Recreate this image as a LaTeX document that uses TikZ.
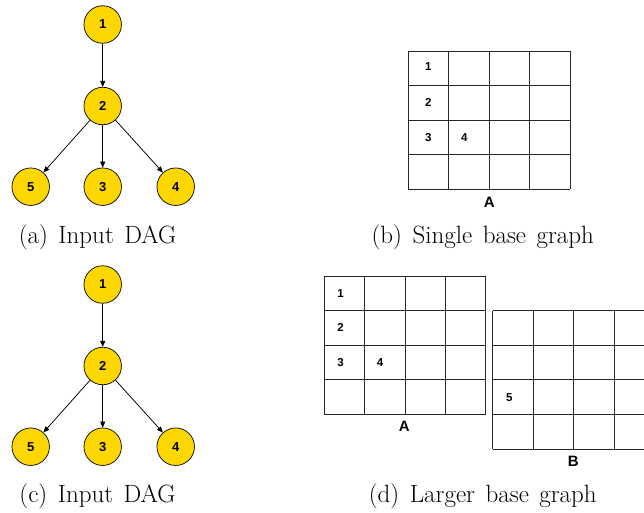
\documentclass[tikz,border=0pt]{standalone}
\usepackage{fontspec}
\newfontfamily\labfont{Liberation Sans}
\usetikzlibrary{arrows.meta}
\definecolor{nodegold}{HTML}{FFD700}
% caption font with slightly wide interword spacing
\newcommand{\capfont}{\fontsize{25}{30}\selectfont\spaceskip 10.5pt plus 1pt\relax}

\begin{document}
\begin{tikzpicture}[x=1pt,y=-1pt,
  dagnode/.style={circle, draw=black, line width=0.7pt, fill=nodegold,
    minimum size=37.5pt, inner sep=0pt,
    font=\labfont\bfseries\fontsize{13}{13}\selectfont},
  edge/.style={line width=0.75pt, draw=black, -{Triangle[length=6pt,width=5pt]}},
  gridline/.style={line width=0.9pt, draw=black!85},
  celllabel/.style={font=\labfont\bfseries\fontsize{11.5}{12}\selectfont, inner sep=0pt},
  gridname/.style={font=\labfont\bfseries\fontsize{15}{15}\selectfont, inner sep=0pt},
  caption/.style={font=\capfont, inner sep=0pt}]

\useasboundingbox (0,0) rectangle (644,512);
\clip (0,0) rectangle (644,512);

% ---- (a) input DAG ----
\begin{scope}
  \node[dagnode] (a1) at (102.7,24.5)  {1};
  \node[dagnode] (a2) at (102.7,106)   {2};
  \node[dagnode] (a5) at (30.7,186.7)  {5};
  \node[dagnode] (a3) at (102.7,186.7) {3};
  \node[dagnode] (a4) at (175.7,186.7) {4};
  \draw[edge] (a1) -- (a2);
  \draw[edge] (a2) -- (a5);
  \draw[edge] (a2) -- (a3);
  \draw[edge] (a2) -- (a4);
\end{scope}
\node[caption] (capa) at (97.5,237.5) {(a) Input DAG};

% ---- (b) single base graph ----
\foreach \i in {0,...,4} {
  \draw[gridline] (408.3+\i*40.43,51) -- (408.3+\i*40.43,189.3);
  \draw[gridline] (408.3,51+\i*34.58) -- (570,51+\i*34.58);
}
\node[celllabel] (b1) at (428.3,67)  {1};
\node[celllabel] (b2) at (428.3,102) {2};
\node[celllabel] (b3) at (428.3,138) {3};
\node[celllabel] (b4) at (464.3,138) {4};
\node[gridname]  (bA) at (489.3,202) {A};
\node[caption] (capb) at (482.8,237.5) {(b) Single base graph};

% ---- (c) input DAG ----
\begin{scope}[yshift=-260pt]
  \node[dagnode] (c1) at (102.7,24.5)  {1};
  \node[dagnode] (c2) at (102.7,106)   {2};
  \node[dagnode] (c5) at (30.7,186.7)  {5};
  \node[dagnode] (c3) at (102.7,186.7) {3};
  \node[dagnode] (c4) at (175.7,186.7) {4};
  \draw[edge] (c1) -- (c2);
  \draw[edge] (c2) -- (c5);
  \draw[edge] (c2) -- (c3);
  \draw[edge] (c2) -- (c4);
\end{scope}
\node[caption] (capc) at (97.5,496) {(c) Input DAG};

% ---- (d) larger base graph: grids A and B ----
\foreach \i in {0,...,4} {
  \draw[gridline] (324.3+\i*40.35,276) -- (324.3+\i*40.35,414.3);
  \draw[gridline] (324.3,276+\i*34.58) -- (485.7,276+\i*34.58);
}
\node[celllabel] (d1) at (340.5,294)   {1};
\node[celllabel] (d2) at (340.5,327.5) {2};
\node[celllabel] (d3) at (340.5,362.5) {3};
\node[celllabel] (d4) at (380,362.5)   {4};
\node[gridname]  (dA) at (404.3,426)   {A};

\foreach \i in {0,...,4} {
  \draw[gridline] (492.7+\i*40.5,310.7) -- (492.7+\i*40.5,449);
  \draw[gridline] (492.7,310.7+\i*34.58) -- (654.7,310.7+\i*34.58);
}
\node[celllabel] (d5) at (509.3,397.5) {5};
\node[gridname]  (dB) at (573.3,461)   {B};
\node[caption] (capd) at (482.8,496) {(d) Larger base graph};

\end{tikzpicture}
\end{document}
